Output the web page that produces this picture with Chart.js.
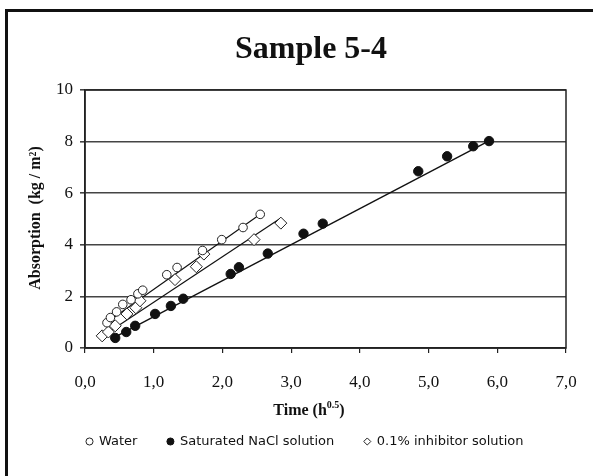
<!DOCTYPE html>
<html>
<head>
<meta charset="utf-8">
<script src="https://cdn.jsdelivr.net/npm/chart.js@4.4.1/dist/chart.umd.min.js"></script>
<style>
  html, body { margin: 0; padding: 0; background: #fff; }
  #wrap { position: relative; width: 593px; height: 476px; overflow: hidden; }
  #frame { position: absolute; left: 5px; top: 9px; width: 620px; height: 500px;
           border-left: 3px solid #111; border-top: 3px solid #111; box-sizing: border-box; }
  canvas { position: absolute; left: 0; top: 0; }
</style>
</head>
<body>
<div id="wrap">
  <canvas id="chart" width="593" height="476"></canvas>
  <div id="frame"></div>
</div>
<script>
// values (x = time in h^0.5, y = absorption in kg/m2)
const waterX = [0.32, 0.37, 0.46, 0.55, 0.67, 0.77, 0.84, 1.19, 1.34, 1.71, 1.99, 2.30, 2.55];
const waterY = [0.98, 1.18, 1.40, 1.69, 1.87, 2.10, 2.24, 2.84, 3.12, 3.78, 4.20, 4.67, 5.18];

const naclX = [0.44, 0.60, 0.73, 1.02, 1.25, 1.43, 2.12, 2.24, 2.66, 3.18, 3.46, 4.85, 5.27, 5.65, 5.88];
const naclY = [0.39, 0.62, 0.86, 1.32, 1.63, 1.91, 2.87, 3.13, 3.66, 4.43, 4.82, 6.85, 7.43, 7.82, 8.02];

const inhibX = [0.25, 0.34, 0.44, 0.61, 0.74, 0.80, 1.31, 1.62, 1.73, 2.46, 2.85];
const inhibY = [0.47, 0.62, 0.86, 1.32, 1.56, 1.83, 2.65, 3.15, 3.64, 4.20, 4.84];

// fitted trend lines, end points
const waterFitX = [0.28, 2.55];
const waterFitY = [0.92, 5.18];
const naclFitX = [0.42, 5.88];
const naclFitY = [0.40, 8.03];
const inhibFitX = [0.22, 2.84];
const inhibFitY = [0.40, 5.02];

const seriesNames = ['Water', 'Saturated NaCl solution', '0.1% inhibitor solution'];
const xTickLabels = ['0,0', '1,0', '2,0', '3,0', '4,0', '5,0', '6,0', '7,0'];
const yTickLabels = ['0', '2', '4', '6', '8', '10'];

const chartTitle = 'Sample 5-4';
const yTitle = 'Absorption  (kg / m\u00B2)';
const xTitle = 'Time (h';
const xTitleSup = '0.5';

const toPoints = (xs, ys) => xs.map((x, i) => ({ x: x, y: ys[i] }));

const serif = '"Liberation Serif", "Times New Roman", serif';

const extras = {
    id: 'extras',
    afterLayout(chart) {
        // legend in the original sits a bit right of the canvas centre
        if (chart.legend) {
            chart.legend.left += 22;
            chart.legend.right += 22;
        }
    },
    afterDraw(chart) {
        const { ctx, chartArea } = chart;
        ctx.save();
        // plot frame
        ctx.strokeStyle = '#222';
        ctx.lineWidth = 1.5;
        ctx.strokeRect(chartArea.left, chartArea.top, chartArea.right - chartArea.left, chartArea.bottom - chartArea.top);

        // chart title
        ctx.fillStyle = '#111';
        ctx.textAlign = 'center';
        ctx.textBaseline = 'middle';
        ctx.font = 'bold 32px ' + serif;
        ctx.fillText(chartTitle, 311, 50);

        // y title
        ctx.save();
        ctx.translate(36, 218);
        ctx.rotate(-Math.PI / 2);
        ctx.font = 'bold 16px ' + serif;
        ctx.fillText(yTitle, 0, 0);
        ctx.restore();

        // x title with superscript
        ctx.font = 'bold 16px ' + serif;
        const w1 = ctx.measureText(xTitle).width;
        ctx.font = 'bold 10px ' + serif;
        const w2 = ctx.measureText(xTitleSup).width;
        ctx.font = 'bold 16px ' + serif;
        const w3 = ctx.measureText(')').width;
        let x0 = 309 - (w1 + w2 + w3) / 2;
        ctx.textAlign = 'left';
        ctx.fillText(xTitle, x0, 411);
        ctx.font = 'bold 10px ' + serif;
        ctx.fillText(xTitleSup, x0 + w1, 405);
        ctx.font = 'bold 16px ' + serif;
        ctx.fillText(')', x0 + w1 + w2, 411);
        ctx.restore();
    }
};

const ctx = document.getElementById('chart').getContext('2d');
new Chart(ctx, {
    type: 'scatter',
    data: {
        datasets: [
            {
                label: seriesNames[0],
                data: toPoints(waterX, waterY),
                pointStyle: 'circle',
                pointRadius: 4.3,
                pointBackgroundColor: '#fff',
                pointBorderColor: '#222',
                pointBorderWidth: 1,
                showLine: false
            },
            {
                label: seriesNames[1],
                data: toPoints(naclX, naclY),
                pointStyle: 'circle',
                pointRadius: 4.7,
                pointBackgroundColor: '#111',
                pointBorderColor: '#111',
                pointBorderWidth: 1,
                showLine: false
            },
            {
                label: seriesNames[2],
                data: toPoints(inhibX, inhibY),
                pointStyle: 'rectRot',
                pointRadius: 6,
                pointBackgroundColor: '#fff',
                pointBorderColor: '#222',
                pointBorderWidth: 1,
                showLine: false
            },
            {
                label: 'fit1',
                data: toPoints(waterFitX, waterFitY),
                showLine: true, pointRadius: 0,
                borderColor: '#111', borderWidth: 1.2
            },
            {
                label: 'fit2',
                data: toPoints(naclFitX, naclFitY),
                showLine: true, pointRadius: 0,
                borderColor: '#111', borderWidth: 1.4
            },
            {
                label: 'fit3',
                data: toPoints(inhibFitX, inhibFitY),
                showLine: true, pointRadius: 0,
                borderColor: '#111', borderWidth: 1.2
            }
        ]
    },
    options: {
        responsive: false,
        animation: false,
        layout: { padding: { top: 90, right: 27, left: 0, bottom: 18 } },
        plugins: {
            title: { display: false },
            tooltip: { enabled: false },
            legend: {
                position: 'bottom',
                labels: {
                    usePointStyle: true,
                    boxWidth: 6,
                    boxHeight: 5,
                    padding: 30,
                    color: '#111',
                    font: { family: '"DejaVu Sans", Verdana, sans-serif', size: 13 },
                    filter: (item) => item.datasetIndex < 3
                }
            }
        },
        scales: {
            x: {
                type: 'linear',
                min: 0, max: 7,
                afterFit: (scale) => {
                    scale.height = 57;
                    scale.paddingLeft = 0;
                    scale.paddingRight = 0;
                },
                afterBuildTicks: (scale) => { scale.ticks = xTickLabels.map((t, i) => ({ value: i })); },
                ticks: {
                    padding: 19,
                    color: '#111',
                    font: { family: serif, size: 17 },
                    callback: (v, i) => xTickLabels[i]
                },
                grid: { drawOnChartArea: false, drawTicks: true, tickLength: 5, color: '#222', lineWidth: 1.2 },
                border: { color: '#222', width: 1.5 }
            },
            y: {
                min: 0, max: 10,
                afterFit: (scale) => { scale.width = 85; },
                afterBuildTicks: (scale) => { scale.ticks = yTickLabels.map((t) => ({ value: Number(t) })); },
                ticks: {
                    padding: 7,
                    color: '#111',
                    font: { family: serif, size: 17 },
                    callback: (v, i) => yTickLabels[i]
                },
                grid: { color: '#444', lineWidth: 1.6, tickLength: 5 },
                border: { color: '#222', width: 1.5 }
            }
        }
    },
    plugins: [extras]
});
</script>
</body>
</html>
